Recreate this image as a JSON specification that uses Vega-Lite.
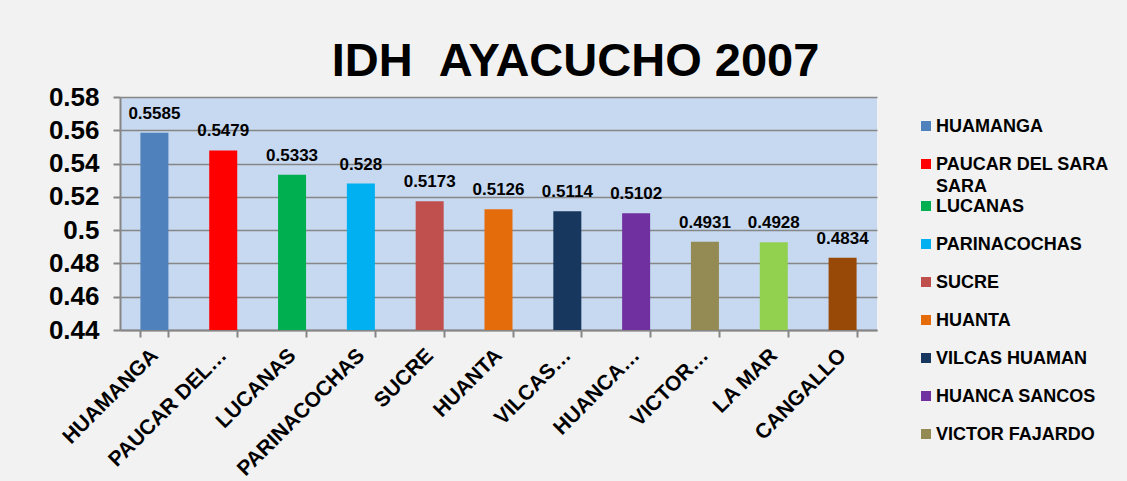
{
  "$schema": "https://vega.github.io/schema/vega-lite/v6.json",
  "width": 757,
  "height": 233,
  "autosize": {"type": "none"},
  "padding": {"left": 120, "top": 97, "right": 250, "bottom": 151},
  "background": "#F2F2F2",
  "title": {
    "text": "IDH\u00a0\u00a0AYACUCHO 2007",
    "font": "Liberation Sans",
    "fontSize": 47,
    "fontWeight": "bold",
    "color": "#000000",
    "anchor": "middle",
    "frame": "group",
    "dx": 77,
    "offset": -39,
    "baseline": "alphabetic"
  },
  "config": {
    "font": "Liberation Sans",
    "view": {"fill": "#C6D9F1", "stroke": null}
  },
  "data": {
    "values": [
      {"provincia": "HUAMANGA", "idh": 0.5585},
      {"provincia": "PAUCAR DEL SARA SARA", "idh": 0.5479},
      {"provincia": "LUCANAS", "idh": 0.5333},
      {"provincia": "PARINACOCHAS", "idh": 0.528},
      {"provincia": "SUCRE", "idh": 0.5173},
      {"provincia": "HUANTA", "idh": 0.5126},
      {"provincia": "VILCAS HUAMAN", "idh": 0.5114},
      {"provincia": "HUANCA SANCOS", "idh": 0.5102},
      {"provincia": "VICTOR FAJARDO", "idh": 0.4931},
      {"provincia": "LA MAR", "idh": 0.4928},
      {"provincia": "CANGALLO", "idh": 0.4834}
    ]
  },
  "encoding": {
    "x": {
      "field": "provincia",
      "type": "nominal",
      "sort": null,
      "scale": {"paddingInner": 0.593, "paddingOuter": 0.2965},
      "axis": {
        "title": null,
        "labelAngle": -45,
        "labelAlign": "right",
        "labelBaseline": "middle",
        "labelFontSize": 21,
        "labelFontWeight": "bold",
        "labelColor": "#000000",
        "labelPadding": 15,
        "labelLimit": 300,
        "labelExpr": "datum.label == 'PAUCAR DEL SARA SARA' ? 'PAUCAR DEL…' : datum.label == 'VILCAS HUAMAN' ? 'VILCAS…' : datum.label == 'HUANCA SANCOS' ? 'HUANCA…' : datum.label == 'VICTOR FAJARDO' ? 'VICTOR…' : datum.label",
        "tickBand": "extent",
        "tickColor": "#868686",
        "tickWidth": 2,
        "tickSize": 7,
        "domainColor": "#868686",
        "domainWidth": 2
      }
    },
    "y": {
      "field": "idh",
      "type": "quantitative",
      "scale": {"domain": [0.44, 0.58], "zero": false, "nice": false},
      "axis": {
        "title": null,
        "values": [0.44, 0.46, 0.48, 0.5, 0.52, 0.54, 0.56, 0.58],
        "format": ".2~f",
        "labelFontSize": 26,
        "labelFontWeight": "bold",
        "labelColor": "#000000",
        "labelPadding": 14,
        "gridColor": "#868686",
        "gridWidth": 1.5,
        "tickColor": "#868686",
        "tickWidth": 2,
        "tickSize": 7,
        "domainColor": "#868686",
        "domainWidth": 2
      }
    }
  },
  "layer": [
    {
      "mark": {"type": "bar", "clip": true},
      "encoding": {
        "color": {
          "field": "provincia",
          "type": "nominal",
          "scale": {
            "domain": ["HUAMANGA", "PAUCAR DEL SARA SARA", "LUCANAS", "PARINACOCHAS", "SUCRE", "HUANTA", "VILCAS HUAMAN", "HUANCA SANCOS", "VICTOR FAJARDO", "LA MAR", "CANGALLO"],
            "range": ["#4F81BD", "#FF0000", "#00B050", "#00B0F0", "#C0504D", "#E46C0A", "#17375E", "#7030A0", "#948A54", "#92D050", "#984807"]
          },
          "legend": {
            "title": null,
            "orient": "none",
            "legendX": 797,
            "legendY": 19,
            "padding": 0,
            "values": ["HUAMANGA", "PAUCAR DEL SARA SARA", "LUCANAS", "PARINACOCHAS", "SUCRE", "HUANTA", "VILCAS HUAMAN", "HUANCA SANCOS", "VICTOR FAJARDO"],
            "labelExpr": "datum.label == 'PAUCAR DEL SARA SARA' ? ['PAUCAR DEL SARA', 'SARA'] : datum.label",
            "labelFontSize": 18,
            "labelFontWeight": "bold",
            "labelColor": "#000000",
            "labelBaseline": "top",
            "labelOffset": 1,
            "labelLimit": 300,
            "symbolType": "square",
            "symbolSize": 100,
            "symbolStrokeWidth": 0,
            "symbolOpacity": 1,
            "clipHeight": 37.4,
            "rowPadding": 0,
            "encode": {
              "labels": {"update": {"lineHeight": {"value": 22}, "y": {"value": 2}}},
              "symbols": {"update": {"y": {"value": 10}}}
            }
          }
        }
      }
    },
    {
      "mark": {"type": "text", "baseline": "alphabetic", "dy": -14, "fontSize": 17, "fontWeight": "bold", "color": "#000000"},
      "encoding": {
        "text": {"field": "idh", "type": "quantitative", "format": ".4~g"}
      }
    }
  ]
}
